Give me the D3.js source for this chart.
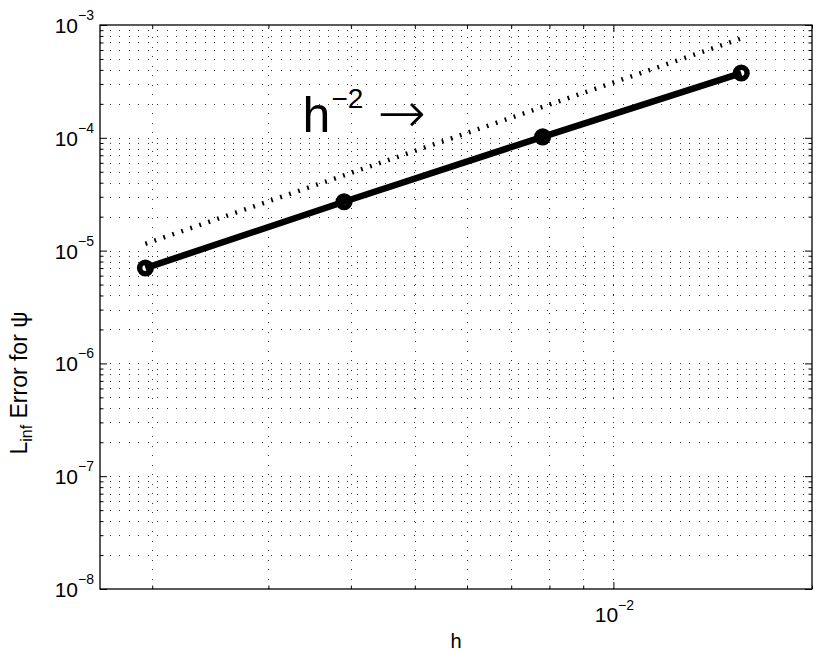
<!DOCTYPE html>
<html>
<head>
<meta charset="utf-8"/>
<script src="https://d3js.org/d3.v7.min.js"></script>
<style>
body { margin: 0; background: #fff; }
text { font-family: "Liberation Sans", Arial, Helvetica, sans-serif; fill: #000; }
.grid line { stroke: #333; stroke-width: 1; stroke-dasharray: 1,8.5; shape-rendering: crispEdges; }
.ticks line { stroke: #000; stroke-width: 1; }
.ticks path { display: none; }
</style>
</head>
<body>
<script>
// data
var hVals   = [1/512, 1/256, 1/128, 1/64];
var errVals = [7.0e-6, 2.71e-5, 1.02e-4, 3.75e-4];

// h^2 reference slope
var refH   = [1/512, 1/64];
var refErr = [1.15e-5, 7.6e-4];

var xTickVals = [1e-2];
var xTickExp  = ["−2"];
var yTickVals = [1e-8, 1e-7, 1e-6, 1e-5, 1e-4, 1e-3];
var yTickExp  = ["−8", "−7", "−6", "−5", "−4", "−3"];

var xDomain = [1/600, 1/50],
    yDomain = [1e-8, 1e-3];

// where the "h^-2 ->" label sits (data coords)
var annH = 0.00338, annErr = 1.125e-4;

var width = 822,
    height = 658,
    plotL = 100, plotR = 812,
    plotT = 25, plotB = 589;

var x = d3.scaleLog().domain(xDomain).range([plotL, plotR]);
var y = d3.scaleLog().domain(yDomain).range([plotB, plotT]);

var svg = d3.select("body")
            .append("svg")
            .attr("width", width)
            .attr("height", height);

// dotted grid, major + minor
var xMinor = x.ticks(),
    yMinor = y.ticks();

var grid = svg.append("g").attr("class", "grid");

grid.selectAll(".vg")
    .data(xMinor.filter(function(d) { return x(d) > plotL + 1 && x(d) < plotR - 1; }))
    .enter().append("line")
    .attr("x1", function(d) { return Math.round(x(d)) + 0.5; })
    .attr("x2", function(d) { return Math.round(x(d)) + 0.5; })
    .attr("y1", plotB)
    .attr("y2", plotT);

grid.selectAll(".hg")
    .data(yMinor.filter(function(d) { return y(d) > plotT + 1 && y(d) < plotB - 1; }))
    .enter().append("line")
    .attr("x1", plotL)
    .attr("x2", plotR)
    .attr("y1", function(d) { return Math.round(y(d)) + 0.5; })
    .attr("y2", function(d) { return Math.round(y(d)) + 0.5; });

// inward ticks on all four sides
function tickSet(axisFn, scale, vals, len, tx, ty) {
    svg.append("g")
       .attr("class", "ticks")
       .attr("transform", "translate(" + tx + "," + ty + ")")
       .call(axisFn(scale).tickValues(vals).tickSize(-len).tickFormat(""));
}
function notMajor(list) {
    return function(d) {
        return !list.some(function(m) { return Math.abs(Math.log10(m) - Math.log10(d)) < 1e-6; });
    };
}
var xMin = xMinor.filter(notMajor(xTickVals)),
    yMin = yMinor.filter(notMajor(yTickVals));

tickSet(d3.axisBottom, x, xTickVals, 7, 0, plotB);
tickSet(d3.axisBottom, x, xMin, 3.5, 0, plotB);
tickSet(d3.axisTop, x, xTickVals, 7, 0, plotT);
tickSet(d3.axisTop, x, xMin, 3.5, 0, plotT);
tickSet(d3.axisLeft, y, yTickVals, 7, plotL, 0);
tickSet(d3.axisLeft, y, yMin, 3.5, plotL, 0);
tickSet(d3.axisRight, y, yTickVals, 7, plotR, 0);
tickSet(d3.axisRight, y, yMin, 3.5, plotR, 0);

// box
svg.append("rect")
   .attr("x", plotL)
   .attr("y", plotT)
   .attr("width", plotR - plotL)
   .attr("height", plotB - plotT)
   .style("fill", "none")
   .style("stroke", "#000")
   .style("stroke-width", 1.3);

// tick labels
var yl = svg.append("g").selectAll("text")
    .data(yTickVals)
    .enter().append("text")
    .attr("x", plotL - 6)
    .attr("y", function(d) { return y(d) + 8; })
    .attr("text-anchor", "end");
yl.append("tspan").style("font-size", "21px").text("10");
yl.append("tspan").style("font-size", "14px").attr("dy", -13)
  .text(function(d, i) { return yTickExp[i]; });

var xl = svg.append("g").selectAll("text")
    .data(xTickVals)
    .enter().append("text")
    .attr("x", function(d) { return x(d) + 1; })
    .attr("y", plotB + 33)
    .attr("text-anchor", "middle");
xl.append("tspan").style("font-size", "21px").text("10");
xl.append("tspan").style("font-size", "14px").attr("dy", -12)
  .text(function(d, i) { return xTickExp[i]; });

// axis titles
svg.append("text")
   .attr("x", (plotL + plotR) / 2)
   .attr("y", plotB + 59)
   .attr("text-anchor", "middle")
   .style("font-size", "20px")
   .text("h");

var yt = svg.append("text")
   .attr("transform", "translate(27,383) rotate(-90)")
   .attr("text-anchor", "middle")
   .style("font-size", "23px");
yt.append("tspan").text("L");
yt.append("tspan").style("font-size", "16px").attr("dy", 5).text("inf");
yt.append("tspan").attr("dy", -5).text(" Error for ψ");

// reference slope, thick dotted
var line = d3.line()
             .x(function(d) { return x(d[0]); })
             .y(function(d) { return y(d[1]); });

svg.append("path")
   .datum(d3.zip(refH, refErr))
   .attr("d", line)
   .style("fill", "none")
   .style("stroke", "#000")
   .style("stroke-width", 4.5)
   .style("stroke-dasharray", "1.8,7.7");

// error curve
var pts = d3.zip(hVals, errVals);

svg.append("path")
   .datum(pts)
   .attr("d", line)
   .style("fill", "none")
   .style("stroke", "#000")
   .style("stroke-width", 6.5);

svg.selectAll(".pt")
   .data(pts)
   .enter().append("circle")
   .attr("cx", function(d) { return x(d[0]); })
   .attr("cy", function(d) { return y(d[1]); })
   .attr("r", 5.8)
   .style("fill", "none")
   .style("stroke", "#000")
   .style("stroke-width", 5.5);

// h^-2 label
var ann = svg.append("text")
   .attr("x", x(annH))
   .attr("y", y(annErr))
   .style("font-size", "50px");
ann.append("tspan").text("h");
ann.append("tspan").style("font-size", "28px").attr("dy", -24).attr("dx", 1).text("−2");
ann.append("tspan")
   .attr("dy", 25).attr("dx", 14)
   .style("font-family", "'DejaVu Sans'")
   .style("font-weight", 200)
   .style("font-size", "58px")
   .text("→");
</script>
</body>
</html>
